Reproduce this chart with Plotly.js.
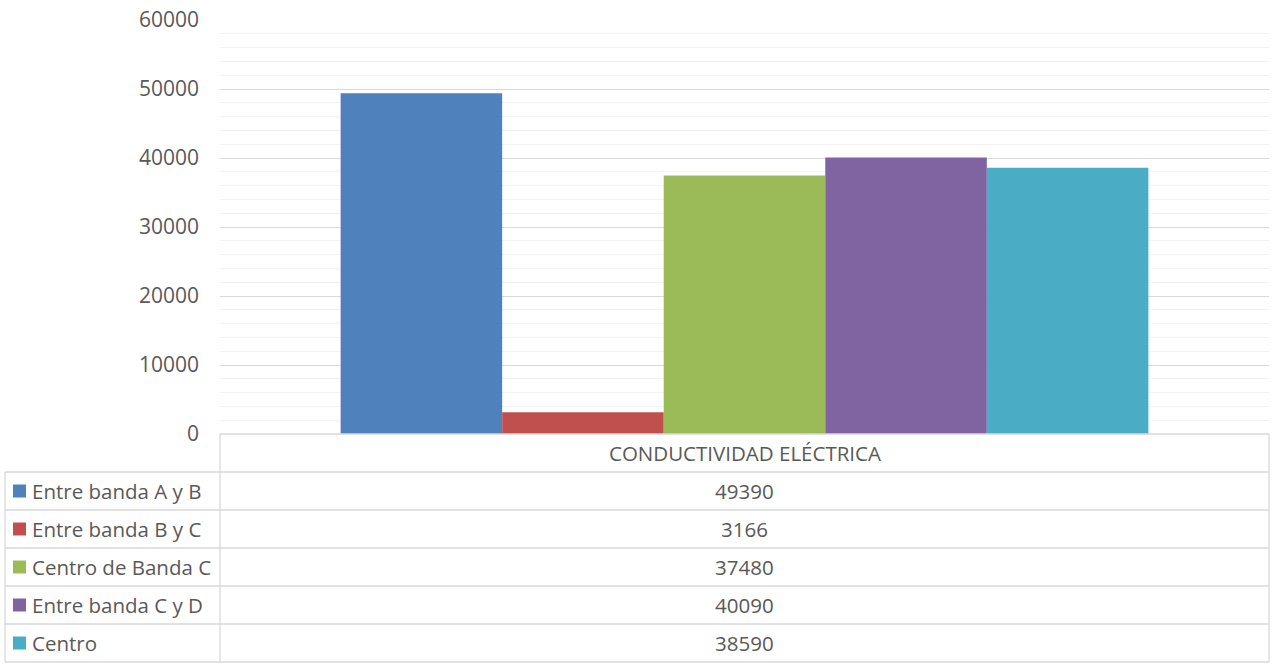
<!DOCTYPE html>
<html>
<head>
<meta charset="utf-8">
<script src="https://cdn.plot.ly/plotly-3.0.1.min.js"></script>
<style>
  html, body { margin: 0; padding: 0; background: #ffffff; }
  #chart { width: 1273px; height: 667px; }
</style>
</head>
<body>
<div id="chart"></div>
<script>
// Conductividad eléctrica por zona de muestreo
const category = 'CONDUCTIVIDAD ELÉCTRICA';
const seriesNames = ['Entre banda A y B', 'Entre banda B y C', 'Centro de Banda C', 'Entre banda C y D', 'Centro'];
const seriesValues = [49390, 3166, 37480, 40090, 38590];
const seriesColors = ['#4F81BD', '#C0504D', '#9BBB59', '#8064A2', '#4BACC6'];
const yTickValues = [0, 10000, 20000, 30000, 40000, 50000, 60000];

const W = 1273, H = 667;
const M = { l: 220, r: 4, t: 20, b: 233 };
const plotW = W - M.l - M.r;
const plotH = H - M.t - M.b;
const FONT = '"Open Sans", sans-serif';
const TEXT = '#595959';
const BORDER = '#d9d9d9';
const TABLE_FONT = 20.5;

// pixel -> paper coordinates
const px = x => (x - M.l) / plotW;
const py = y => (H - M.b - y) / plotH;

const traces = seriesNames.map((name, i) => ({
  type: 'bar',
  name: name,
  x: [category],
  y: [seriesValues[i]],
  marker: { color: seriesColors[i], line: { width: 0 } },
  hoverinfo: 'name+y'
}));

// data table below the plot
const tableLeft = 5, tableRight = 1269, colSplit = 220;
const headerTop = 434, rowH = 38;
const rowTop = k => headerTop + rowH * (k + 1);
const nRows = seriesNames.length;
const tableBottom = rowTop(nRows);

const line = (x0, y0, x1, y1) => ({
  type: 'line', xref: 'paper', yref: 'paper',
  x0: px(x0), y0: py(y0), x1: px(x1), y1: py(y1),
  line: { color: BORDER, width: 1.3 }
});

const shapes = [];
shapes.push(line(colSplit, headerTop, tableRight, headerTop));
for (let k = 0; k <= nRows; k++) shapes.push(line(tableLeft, rowTop(k), tableRight, rowTop(k)));
shapes.push(line(tableLeft, rowTop(0), tableLeft, tableBottom));
shapes.push(line(colSplit, headerTop, colSplit, tableBottom));
shapes.push(line(tableRight, headerTop, tableRight, tableBottom));

const annotations = [];
annotations.push({
  xref: 'paper', yref: 'paper', x: px((colSplit + tableRight) / 2), y: py(headerTop + rowH / 2),
  text: category, showarrow: false, xanchor: 'center', yanchor: 'middle',
  font: { family: FONT, size: TABLE_FONT, color: TEXT }
});
seriesNames.forEach((name, k) => {
  const cy = rowTop(k) + rowH / 2;
  shapes.push({
    type: 'rect', xref: 'paper', yref: 'paper',
    x0: px(13), x1: px(26), y0: py(cy - 6.5), y1: py(cy + 6.5),
    fillcolor: seriesColors[k], line: { width: 0 }
  });
  annotations.push({
    xref: 'paper', yref: 'paper', x: px(30), y: py(cy),
    text: name, showarrow: false, xanchor: 'left', yanchor: 'middle',
    font: { family: FONT, size: TABLE_FONT, color: TEXT }
  });
  annotations.push({
    xref: 'paper', yref: 'paper', x: px((colSplit + tableRight) / 2), y: py(cy),
    text: String(seriesValues[k]), showarrow: false, xanchor: 'center', yanchor: 'middle',
    font: { family: FONT, size: TABLE_FONT, color: TEXT }
  });
});

const layout = {
  width: W, height: H,
  margin: M,
  paper_bgcolor: '#ffffff',
  plot_bgcolor: '#ffffff',
  showlegend: false,
  barmode: 'group',
  bargap: 0.23,
  bargroupgap: 0,
  font: { family: FONT, color: TEXT },
  xaxis: {
    showticklabels: false, ticks: '', showgrid: false, zeroline: false, showline: false,
    fixedrange: true
  },
  yaxis: {
    range: [0, 60000],
    tickvals: yTickValues,
    ticktext: yTickValues.map(String),
    ticks: '',
    ticklabelstandoff: 20,
    tickfont: { family: FONT, size: 21, color: TEXT },
    showgrid: true, gridcolor: BORDER, gridwidth: 1,
    minor: { dtick: 2000, showgrid: true, gridcolor: '#f2f2f2', gridwidth: 1 },
    zeroline: false, showline: false,
    fixedrange: true
  },
  shapes: shapes,
  annotations: annotations
};

Plotly.newPlot('chart', traces, layout, { displayModeBar: false, staticPlot: true });
</script>
</body>
</html>
